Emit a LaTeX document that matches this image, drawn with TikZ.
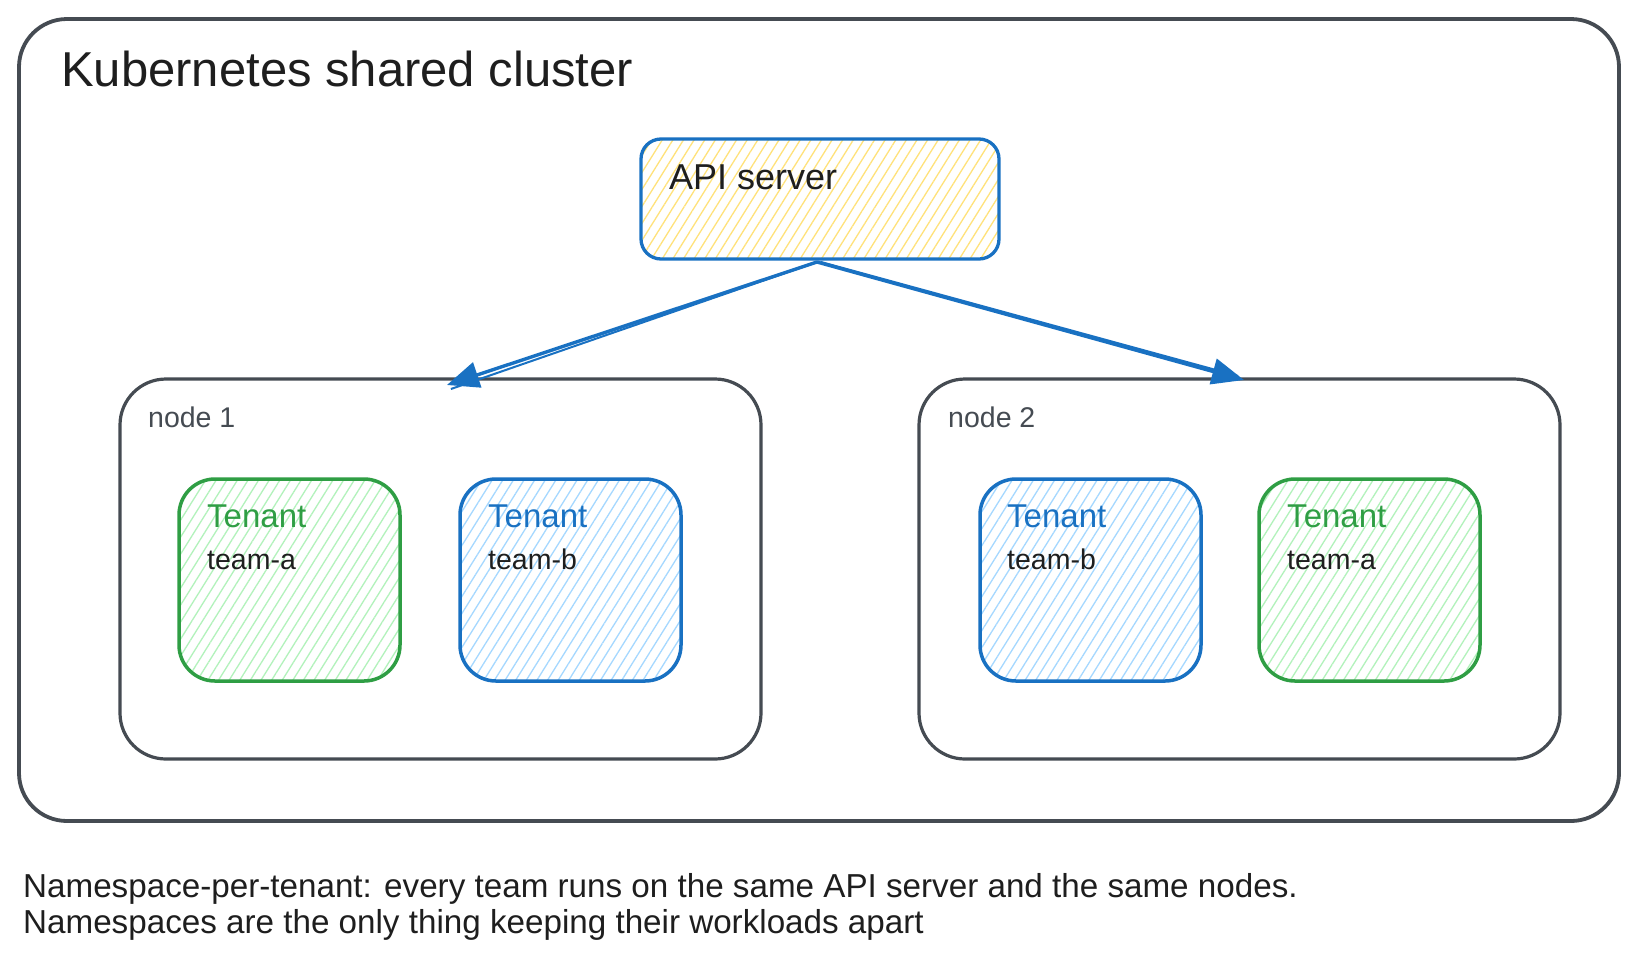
\documentclass[tikz,border=0pt]{standalone}
\usepackage{fontspec}
\setmainfont{Liberation Sans}
\usetikzlibrary{arrows.meta,patterns.meta,calc}
\definecolor{ink}{HTML}{1E1E1E}
\definecolor{sgray}{HTML}{454B52}
\definecolor{sblue}{HTML}{1971C2}
\definecolor{sbluefill}{HTML}{A5D8FF}
\definecolor{sgreen}{HTML}{2F9E44}
\definecolor{sgreenfill}{HTML}{B2F2BB}
\definecolor{syellow}{HTML}{FFE27A}
\begin{document}
\begin{tikzpicture}[x=1pt,y=-1pt,
  box/.style={anchor=north west, inner sep=0pt, outer sep=0pt},
  clusterbox/.style={box, draw=sgray, line width=3.8pt, rounded corners=48pt,
    minimum width=1600pt, minimum height=802pt},
  hostbox/.style={box, draw=sgray, line width=3.2pt, rounded corners=46pt,
    minimum width=641pt, minimum height=380pt},
  hatch/.style={pattern={Lines[angle=58,distance=9pt,line width=1.3pt]}, pattern color=#1},
  apibox/.style={box, draw=sblue, line width=3.3pt, rounded corners=20pt,
    minimum width=358pt, minimum height=120pt, hatch=syellow},
  greenbox/.style={box, draw=sgreen, line width=3.5pt, rounded corners=36pt,
    minimum width=221pt, minimum height=202pt, hatch=sgreenfill},
  bluebox/.style={box, draw=sblue, line width=3.5pt, rounded corners=36pt,
    minimum width=221pt, minimum height=202pt, hatch=sbluefill},
  lbl/.style={anchor=base west, inner sep=0pt, text=ink},
  titletext/.style={lbl, font=\fontsize{49}{55}\selectfont},
  apitext/.style={lbl, font=\fontsize{36}{40}\selectfont},
  hosttext/.style={lbl, text=sgray, font=\fontsize{28.5}{32}\selectfont},
  tenanttext/.style={lbl, font=\fontsize{33}{36}\selectfont},
  teamtext/.style={lbl, font=\fontsize{28.5}{32}\selectfont},
  captiontext/.style={lbl, font=\fontsize{33.2}{36}\selectfont},
  conn/.style={draw=sblue, line width=3.4pt, -{Triangle[length=32pt,width=26pt]}},
  connshadow/.style={draw=sblue, line width=2pt}
]
\useasboundingbox (0,0) rectangle (1640,962);
\fill[white] (0,0) rectangle (1640,962);

% outer cluster
\node[clusterbox] (cluster) at (19,19) {};
\node[titletext] (title) at (61,86) {Kubernetes shared cluster};

% API server
\node[apibox] (api) at (641,139) {};
\node[apitext] (apilbl) at (669,189) {API server};

% hosts
\node[hostbox] (node1) at (120,379) {};
\node[hosttext] (node1lbl) at (148,427) {node 1};
\node[hostbox] (node2) at (919,379) {};
\node[hosttext] (node2lbl) at (948,427) {node 2};

% tenants in node 1
\node[greenbox] (t1a) at (179,479) {};
\node[tenanttext, text=sgreen] (t1albl) at (207,527) {Tenant};
\node[teamtext] (t1ateam) at (207,569) {team-a};
\node[bluebox] (t1b) at (460,479) {};
\node[tenanttext, text=sblue] (t1blbl) at (488,527) {Tenant};
\node[teamtext] (t1bteam) at (488,569) {team-b};

% tenants in node 2
\node[bluebox] (t2b) at (980,479) {};
\node[tenanttext, text=sblue] (t2blbl) at (1007,527) {Tenant};
\node[teamtext] (t2bteam) at (1007,569) {team-b};
\node[greenbox] (t2a) at (1259,479) {};
\node[tenanttext, text=sgreen] (t2albl) at (1287,527) {Tenant};
\node[teamtext] (t2ateam) at (1287,569) {team-a};

% connectors
\coordinate (start) at ($(api.south)+(-3,3)$);
\coordinate (end1) at ($(node1.north west)!0.51!(node1.north east)+(0,6)$);
\coordinate (end2) at ($(node2.north west)!0.507!(node2.north east)+(0,1)$);
\draw[connshadow] (start) -- ($(end1)+(4,4)$);
\draw[connshadow] ($(start)+(4,0)$) -- ($(end2)+(-6,-4)$);
\draw[conn] (start) -- (end1);
\draw[conn] (start) -- (end2);

% caption
\node[captiontext] (cap1) at (23,897) {Namespace-per-tenant: every team runs on the same API server and the same nodes.};
\node[captiontext] (cap2) at (23,933) {Namespaces are the only thing keeping their workloads apart};
\end{tikzpicture}
\end{document}
